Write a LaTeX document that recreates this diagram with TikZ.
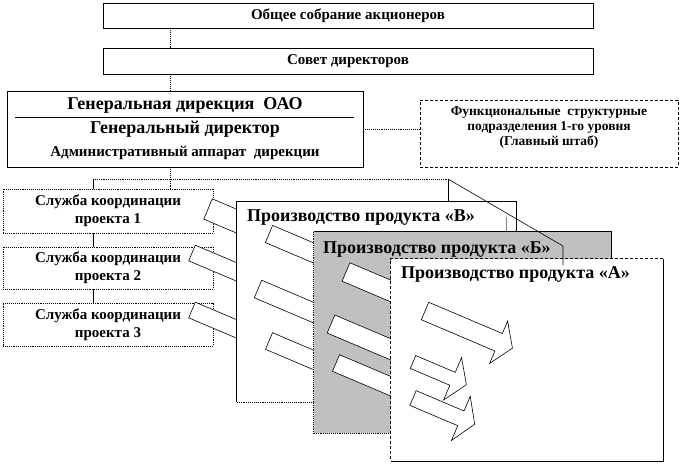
\documentclass[tikz,border=0pt]{standalone}
\usepackage{fontspec}
\setmainfont{Liberation Serif}
\definecolor{sheetgray}{RGB}{192,192,192}
\newcommand{\flowarrow}[5]{%
  \draw[flow,shift={(#1,#2)},rotate=-23] (0,-#4) -- (#3,-#4) -- (#3,-#5) -- (#3+15,0) -- (#3,#5) -- (#3,#4) -- (0,#4) -- cycle;}

\begin{document}
\begin{tikzpicture}[x=1pt,y=-1pt,
    box/.style={draw,fill=white,line width=.9pt,inner sep=0pt,align=center,font=\bfseries\fontsize{15}{18}\selectfont},
    unit/.style={box,densely dotted,minimum width=210pt},
    sheet/.style={fill=white,inner sep=0pt},
    edge/.style={line width=.9pt},
    title/.style={anchor=west,inner sep=0pt,font=\bfseries\fontsize{18}{20}\selectfont},
    link/.style={densely dotted,line width=.9pt},
    flow/.style={draw,fill=white,line width=.6pt,line join=miter}]
  \useasboundingbox (0,0) rectangle (682,464);

  \coordinate (spine) at (170,0);
  \coordinate (bus) at (93,179);
  \coordinate (corner) at (448,179);
  \coordinate (fold) at (563,246);
  \coordinate (foldend) at (563,265);

  \node (meet) at (348,15.5) [box,minimum width=490pt,minimum height=25pt] {Общее собрание акционеров};
  \node (council) at (348,61) [box,minimum width=490pt,minimum height=26pt] {Совет директоров};

  \node (gen) at (185,129) [box,minimum width=356pt,minimum height=76pt] {};
  \node (gen1) at (185,105) [font=\bfseries\fontsize{18}{20}\selectfont,inner sep=0pt] {Генеральная дирекция~ ОАО};
  \draw[edge] (15,117.5) -- (354,117.5);
  \node (gen2) at (185,129) [font=\bfseries\fontsize{18}{20}\selectfont,inner sep=0pt] {Генеральный директор};
  \node (gen3) at (185,153) [font=\bfseries\fontsize{15}{18}\selectfont,inner sep=0pt] {Административный аппарат~ дирекции};

  \node (funk) at (549,133.5) [box,densely dashed,minimum width=258pt,minimum height=67pt] {};
  \node (funkt) at (549,128) [align=center,inner sep=0pt,font=\bfseries\fontsize{13.5}{15}\selectfont] {Функциональные~ структурные\\подразделения 1-го уровня\\(Главный штаб)};

  \draw[link] (spine |- meet.south) -- (spine |- council.north);
  \draw[link] (spine |- council.south) -- (spine |- gen.north);
  \draw[link] (gen.east) -- (gen.east -| funk.west);

  \node (s1) at (108,211) [unit,minimum height=44pt] {Служба координации\\проекта 1};
  \node (s2) at (108,268) [unit,minimum height=42pt] {Служба координации\\проекта 2};
  \node (s3) at (108,324.5) [unit,minimum height=43pt] {Служба координации\\проекта 3};

  \draw[link] (spine |- gen.south) -- (spine |- s1.north);
  \draw[link] (bus) -- (corner);
  \draw[edge] (bus) -- (bus |- s1.north);
  \draw[edge] (bus |- s1.south) -- (bus |- s2.north);
  \draw[edge] (bus |- s2.south) -- (bus |- s3.north);

  \flowarrow{208}{209}{90}{11}{23}
  \flowarrow{192}{253}{90}{8.5}{23}
  \flowarrow{192}{310}{90}{8.5}{23}

  \node (shB) at (376.5,302) [sheet,minimum width=279pt,minimum height=200pt] {};
  \draw[edge] (shB.south west) -- (shB.north west) -- (shB.north east) -- (shB.south east);
  \draw[edge,densely dotted] (shB.south west) -- (shB.south east);
  \node (tB) at (247,218) [title] {Производство продукта «В»};
  \draw[edge] (corner) -- (corner |- shB.north);
  \flowarrow{269}{234}{80}{9.3}{23}
  \flowarrow{258}{289}{80}{9.5}{23}
  \flowarrow{269}{341}{80}{9}{23}
  \draw[gray,edge] (506,217) -- (506,233);

  \node (shG) at (462.5,332.5) [sheet,fill=sheetgray,minimum width=297pt,minimum height=201pt] {};
  \draw[edge] (shG.north west) -- (shG.north east) -- (shG.south east);
  \draw[edge,densely dotted] (shG.north west) -- (shG.south west) -- (shG.south east);
  \node (tG) at (323,250) [title] {Производство продукта «Б»};
  \flowarrow{346}{272}{85}{10}{23}
  \flowarrow{331}{324}{85}{9.8}{23}
  \flowarrow{336}{363}{85}{9}{23}

  \node (shA) at (527,360) [sheet,minimum width=272pt,minimum height=202pt] {};
  \draw[edge] (shA.south west) -- (shA.south east) -- (shA.north east);
  \draw[edge,densely dashed] (shA.north east) -- (shA.north west) -- (shA.south west);
  \node (tA) at (401,274) [title] {Производство продукта «А»};
  \flowarrow{413}{398}{52}{8}{24}
  \flowarrow{413}{362}{43}{7}{23}
  \flowarrow{425}{311}{80}{9.5}{23}

  \draw[line width=.6pt] (corner) -- (fold) -- (foldend);
\end{tikzpicture}
\end{document}
